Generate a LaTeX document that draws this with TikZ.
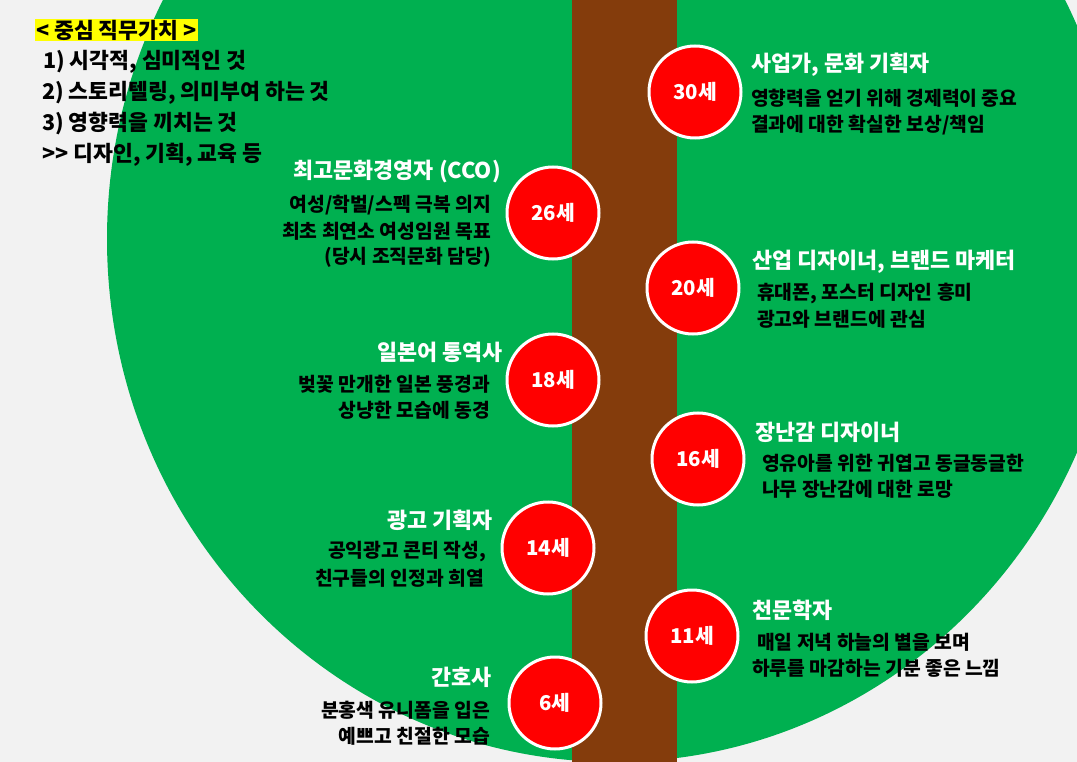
\documentclass[tikz,border=0pt]{standalone}
\usepackage{fontspec}
\newfontfamily\kr{Noto Sans CJK KR}
\definecolor{bgc}{HTML}{F2F2F2}
\definecolor{treegreen}{HTML}{00B050}
\definecolor{trunk}{HTML}{843C0C}
\definecolor{agered}{HTML}{FF0000}
\definecolor{hl}{HTML}{FFFF00}
\begin{document}
\begin{tikzpicture}[x=1pt,y=-1pt,
  age/.style={circle, minimum size=92pt, inner sep=0pt, fill=agered, draw=white, line width=3pt,
    text=white, font=\kr\bfseries\fontsize{20.4}{22}\selectfont},
  ttl/.style={inner sep=0pt, text=white, font=\kr\bfseries\fontsize{21.8}{24}\selectfont},
  bdy/.style={inner sep=0pt, text=black, font=\kr\bfseries\fontsize{19.3}{22}\selectfont},
  lst/.style={inner sep=0pt, text=black, font=\kr\bfseries\fontsize{21.6}{24}\selectfont, anchor=west},
]
\useasboundingbox (0,0) rectangle (1077,762);
\fill[bgc] (0,0) rectangle (1077,762);
\begin{scope}
\clip (0,0) rectangle (1077,762);
\fill[treegreen] (614,239) ellipse [x radius=507, y radius=523];
\end{scope}
\fill[trunk] (572,0) rectangle (677,762);

% key values
\node[lst, fill=hl, inner xsep=1pt, inner ysep=1pt, anchor=west] (kv) at (35,30) {< 중심 직무가치 >};
\node[lst] (kv1) at (43,62) {1) 시각적, 심미적인 것};
\node[lst] (kv2) at (42,93) {2) 스토리텔링, 의미부여 하는 것};
\node[lst] (kv3) at (42,124) {3) 영향력을 끼치는 것};
\node[lst] (kv4) at (42,155) {>{}> 디자인, 기획, 교육 등};

% ages
\node[age] (a30) at (695,92) {30세};
\node[age] (a26) at (553,213) {26세};
\node[age] (a20) at (693,288) {20세};
\node[age] (a18) at (553,380) {18세};
\node[age] (a16) at (698,459) {16세};
\node[age] (a14) at (548,548) {14세};
\node[age] (a11) at (692,636) {11세};
\node[age] (a6) at (555,703) {6세};

% 30
\node[ttl, anchor=west] (t30) at (751,65) {사업가, 문화 기획자};
\node[bdy, anchor=west] (b30a) at (751,98) {영향력을 얻기 위해 경제력이 중요};
\node[bdy, anchor=west] (b30b) at (751,125) {결과에 대한 확실한 보상/책임};
% 26
\node[ttl, anchor=east] (t26) at (501,172) {최고문화경영자 (CCO)};
\node[bdy, anchor=east] (b26a) at (491,205) {여성/학벌/스펙 극복 의지};
\node[bdy, anchor=east] (b26b) at (491,231) {최초 최연소 여성임원 목표};
\node[bdy, anchor=east] (b26c) at (491,257) {(당시 조직문화 담당)};
% 20
\node[ttl, anchor=west] (t20) at (752,262) {산업 디자이너, 브랜드 마케터};
\node[bdy, anchor=west] (b20a) at (757,293) {휴대폰, 포스터 디자인 흥미};
\node[bdy, anchor=west] (b20b) at (757,319) {광고와 브랜드에 관심};
% 18
\node[ttl, anchor=east] (t18) at (503,352) {일본어 통역사};
\node[bdy, anchor=east] (b18a) at (490,384) {벚꽃 만개한 일본 풍경과};
\node[bdy, anchor=east] (b18b) at (490,410) {상냥한 모습에 동경};
% 16
\node[ttl, anchor=west] (t16) at (755,432) {장난감 디자이너};
\node[bdy, anchor=west] (b16a) at (762,463) {영유아를 위한 귀엽고 동글동글한};
\node[bdy, anchor=west] (b16b) at (762,489) {나무 장난감에 대한 로망};
% 14
\node[ttl, anchor=east] (t14) at (493,520) {광고 기획자};
\node[bdy, anchor=east] (b14a) at (486,552) {공익광고 콘티 작성,};
\node[bdy, anchor=east] (b14b) at (484,578) {친구들의 인정과 희열};
% 11
\node[ttl, anchor=west] (t11) at (752,610) {천문학자};
\node[bdy, anchor=west] (b11a) at (757,642) {매일 저녁 하늘의 별을 보며};
\node[bdy, anchor=west] (b11b) at (752,668) {하루를 마감하는 기분 좋은 느낌};
% 6
\node[ttl, anchor=east] (t6) at (492,677) {간호사};
\node[bdy, anchor=east] (b6a) at (490,710) {분홍색 유니폼을 입은};
\node[bdy, anchor=east] (b6b) at (490,736) {예쁘고 친절한 모습};
\end{tikzpicture}
\end{document}
